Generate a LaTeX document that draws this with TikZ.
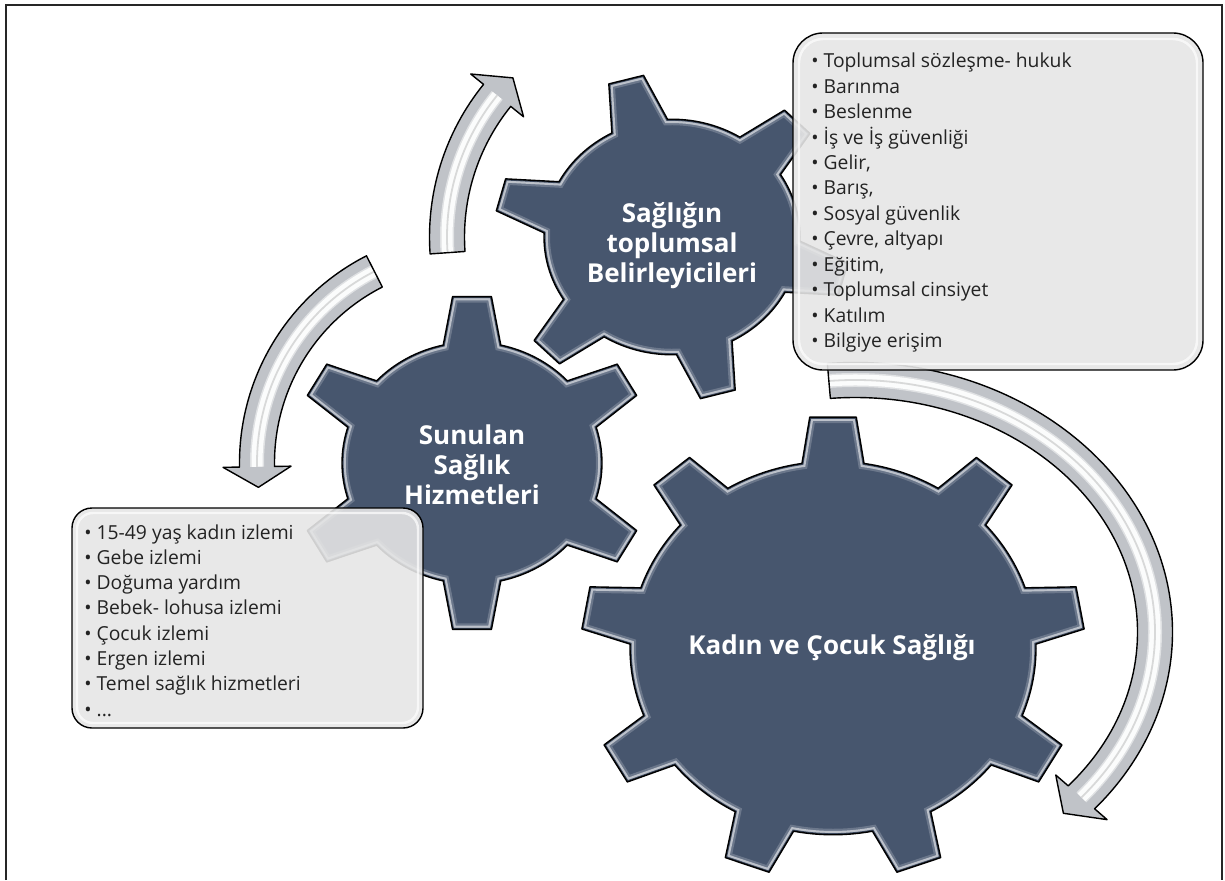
\documentclass[tikz,border=0pt]{standalone}
\usepackage{fontspec}
\setmainfont{Open Sans}
\definecolor{gearcol}{RGB}{71,86,110}
\definecolor{arrowgray}{RGB}{192,195,200}
\definecolor{boxgray}{RGB}{229,229,229}
\definecolor{itemtext}{RGB}{35,35,35}

% closed outline of a gear around the current origin
% #1 teeth, #2 tip radius, #3 root radius, #4 tip half-angle, #5 root half-angle, #6 angle of first tooth
\newcommand\gearoutline[6]{%
  ({#6-#5}:#3)
  \foreach \k in {1,...,#1}{
    -- ({#6+(\k-1)*360/#1-#4}:#2)
    -- ({#6+(\k-1)*360/#1+#4}:#2)
    -- ({#6+(\k-1)*360/#1+#5}:#3)
    arc[start angle={#6+(\k-1)*360/#1+#5}, end angle={#6+\k*360/#1-#5}, radius=#3]
  } -- cycle}

% a bevelled gear: #1 centre, #2 y-scale, #3..#8 as for \gearoutline
\newcommand\drawgear[8]{%
  \begin{scope}[shift={#1}, yscale=#2]
    \fill[gearcol] \gearoutline{#3}{#4}{#5}{#6}{#7}{#8};
    \begin{scope}
      \clip \gearoutline{#3}{#4}{#5}{#6}{#7}{#8};
      \draw[white, opacity=.2, line width=6pt] \gearoutline{#3}{#4}{#5}{#6}{#7}{#8};
      \draw[white, opacity=.55, line width=3.8pt] \gearoutline{#3}{#4}{#5}{#6}{#7}{#8};
      \draw[gearcol!85!black, line width=1.6pt] \gearoutline{#3}{#4}{#5}{#6}{#7}{#8};
    \end{scope}
    \draw[black, line width=.7pt, line join=round] \gearoutline{#3}{#4}{#5}{#6}{#7}{#8};
  \end{scope}}

% curved block arrow along an ellipse
\newcommand\arrHalf{17.5}
\newcommand\arrHead{34}
% #1 x radius, #2 y radius, #3 start angle, #4 angle where the head begins, #5 tip angle
\newcommand\bentarrowpath[5]{%
  ({#3}:{#1+\arrHalf} and {#2+\arrHalf})
  arc[start angle=#3, end angle=#4, x radius={#1+\arrHalf}, y radius={#2+\arrHalf}]
  -- ({#4}:{#1+\arrHead} and {#2+\arrHead})
  -- ({#5}:{#1} and {#2})
  -- ({#4}:{#1-\arrHead} and {#2-\arrHead})
  -- ({#4}:{#1-\arrHalf} and {#2-\arrHalf})
  arc[start angle=#4, end angle=#3, x radius={#1-\arrHalf}, y radius={#2-\arrHalf}]
  -- cycle}
% #1 centre, then the five values of \bentarrowpath
\newcommand\bentarrow[6]{%
  \begin{scope}[shift={#1}]
    \fill[arrowgray] \bentarrowpath{#2}{#3}{#4}{#5}{#6};
    \begin{scope}
      \clip \bentarrowpath{#2}{#3}{#4}{#5}{#6};
      \draw[white, opacity=.5, line width=7pt]
        ({#4}:{#2} and {#3}) arc[start angle=#4, end angle=#5, x radius=#2, y radius=#3];
      \draw[white, opacity=.9, line width=5.5pt]
        ({#4}:{#2} and {#3}) arc[start angle=#4, end angle=#5, x radius=#2, y radius=#3];
      \draw[gray!80, opacity=.35, line width=.9pt]
        ({#4}:{#2} and {#3}) arc[start angle=#4, end angle=#5, x radius=#2, y radius=#3];
    \end{scope}
    \draw[black, line width=.7pt, line join=round] \bentarrowpath{#2}{#3}{#4}{#5}{#6};
  \end{scope}}

\begin{document}
\begin{tikzpicture}[x=0.5pt, y=0.5pt,
  geartext/.style={text=white, font=\fontsize{13}{15}\selectfont\bfseries,
    align=center, inner sep=0pt},
  item/.style={text=itemtext, font=\fontsize{9.65}{12}\selectfont,
    inner sep=0pt, anchor=base west},
  infobox/.style={fill=boxgray, fill opacity=.9, draw=black, line width=.7pt},
  boxshine/.style={draw=white, opacity=.7, line width=1.2pt}]

\useasboundingbox (0,0) rectangle (1225,880);

% frame
\draw[black!85, line width=1.3pt] (6,0) -- (6,875) -- (1222,875) -- (1222,0);

% gear centres
\coordinate (gsoc) at (672,643);
\coordinate (gsrv) at (472,417);
\coordinate (gkcs) at (833,232);

% gears
\drawgear{(gkcs)}{0.92}{9}{252}{203}{5.3}{8.8}{90}
\drawgear{(gsoc)}{0.92}{6}{178}{128}{5.8}{13}{45}
\drawgear{(gsrv)}{0.93}{6}{180}{130}{6.2}{12.8}{90}

% gear captions
\node[geartext] (tsoc) at (672,634) {Sağlığın\\toplumsal\\Belirleyicileri};
\node[geartext] (tsrv) at (472,415) {Sunulan\\Sağlık\\Hizmetleri};
\node[geartext] (tkcs) at (832,232) {Kadın ve Çocuk Sağlığı};

% curved arrows
\bentarrow{(gsoc)}{225}{225}{184}{141}{135}
\bentarrow{(gsrv)}{215}{215}{117}{181}{186.5}
\bentarrow{(855,248)}{300}{252}{95}{-41}{-46}

% list of social determinants
\path[infobox, rounded corners=15pt] (793,510) rectangle (1203,847);
\draw[boxshine, rounded corners=12pt] (799,516) rectangle (1197,841);
\foreach \t [count=\i] in {Toplumsal sözleşme- hukuk, Barınma, Beslenme,
    İş ve İş güvenliği, {Gelir,}, {Barış,}, Sosyal güvenlik, {Çevre, altyapı},
    {Eğitim,}, Toplumsal cinsiyet, Katılım, Bilgiye erişim}
  \node[item] (soc\i) at (811,{812-25.4*(\i-1)}) {• \t};

% list of services
\path[infobox, rounded corners=10pt] (72,152) rectangle (423,372);
\draw[boxshine, rounded corners=8pt] (77,157) rectangle (418,367);
\foreach \t [count=\i] in {15-49 yaş kadın izlemi, Gebe izlemi, Doğuma yardım,
    Bebek- lohusa izlemi, Çocuk izlemi, Ergen izlemi, Temel sağlık hizmetleri}
  \node[item] (srv\i) at (84,{341-25.3*(\i-1)}) {• \t};
\node[item] (srv8) at (84,{341-25.3*7}) {• .\kern0pt.\kern0pt.};

\end{tikzpicture}
\end{document}
